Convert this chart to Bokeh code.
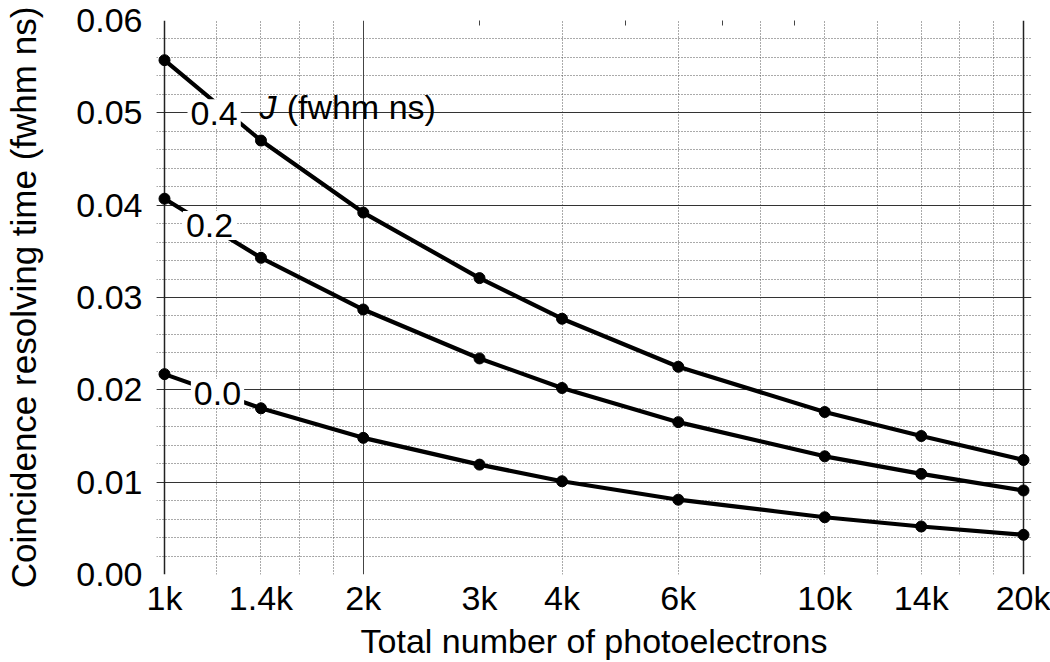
from bokeh.plotting import figure
from bokeh.models import (FixedTicker, CustomJSTickFormatter, Grid, LogAxis, Range1d)
from bokeh.core.properties import value
from bokeh.embed import file_html
from bokeh.resources import INLINE

# ---- data ----
photoelectrons = [1000, 1400, 2000, 3000, 4000, 6000, 10000, 14000, 20000]
j_04 = [0.0557, 0.0470, 0.0392, 0.0321, 0.0277, 0.0225, 0.0176, 0.0150, 0.0124]
j_02 = [0.0407, 0.0343, 0.0287, 0.0234, 0.0202, 0.0165, 0.0128, 0.0109, 0.0091]
j_00 = [0.0217, 0.0180, 0.0148, 0.0119, 0.0101, 0.0081, 0.0062, 0.0052, 0.0043]
series = [j_04, j_02, j_00]
curve_labels = ["0.4", "0.2", "0.0"]

x_tick_values = [1000, 1400, 2000, 3000, 4000, 6000, 10000, 14000, 20000]
x_tick_labels = ["1k", "1.4k", "2k", "3k", "4k", "6k", "10k", "14k", "20k"]
x_grid_dotted = [1200, 1400, 1600, 1800, 4000, 6000, 8000, 10000, 12000, 14000, 16000, 18000]
x_grid_solid = [2000]
x_border = [1000, 20000]
x_top_ticks = [3000, 5000, 7000, 9000]
y_tick_values = [0.0, 0.01, 0.02, 0.03, 0.04, 0.05, 0.06]
y_tick_labels = ["0.00", "0.01", "0.02", "0.03", "0.04", "0.05", "0.06"]
y_minor = [round(i * 0.002, 3) for i in range(31)]

FONT = "Liberation Sans"
FS = "34px"
PAD = 1.0283  # small range padding so edge markers are not clipped

p = figure(width=1050, height=662, x_axis_type="log",
           x_range=Range1d(x_border[0] / PAD, x_border[1] * PAD), y_range=Range1d(0, 0.06),
           output_backend="svg", toolbar_location=None,
           min_border_left=156, min_border_right=19, min_border_top=20, min_border_bottom=88)
p.background_fill_color = "white"
p.border_fill_color = "white"
p.outline_line_color = None

# x axis
xa = p.xaxis[0]
xa.ticker = FixedTicker(ticks=x_tick_values)
xa.formatter = CustomJSTickFormatter(args=dict(vals=x_tick_values, labs=x_tick_labels), code="""
for (let i = 0; i < vals.length; i++) { if (Math.abs(vals[i] - tick) < 1e-6 * vals[i]) return labs[i]; }
return '';
""")
xa.axis_label = "Total number of photoelectrons"
xa.major_label_standoff = 4
xa.axis_label_standoff = 2

# y axis
ya = p.yaxis[0]
ya.ticker = FixedTicker(ticks=y_tick_values, minor_ticks=y_minor)
ya.formatter = CustomJSTickFormatter(args=dict(vals=y_tick_values, labs=y_tick_labels), code="""
for (let i = 0; i < vals.length; i++) { if (Math.abs(vals[i] - tick) < 1e-9) return labs[i]; }
return '';
""")
ya.axis_label = "Coincidence resolving time (fwhm ns)"
ya.major_label_standoff = 14
ya.axis_label_standoff = 30

for ax in (xa, ya):
    ax.major_tick_out = 0
    ax.major_tick_in = 0
    ax.minor_tick_out = 0
    ax.minor_tick_in = 0
    ax.axis_line_color = None
    ax.major_label_text_font = FONT
    ax.major_label_text_font_size = FS
    ax.major_label_text_color = "black"
    ax.axis_label_text_font = FONT
    ax.axis_label_text_font_size = FS
    ax.axis_label_text_font_style = "normal"
    ax.axis_label_text_color = "black"
ya.axis_label_text_font_size = "35px"

# small inward ticks on the top edge
top = LogAxis(ticker=FixedTicker(ticks=x_top_ticks),
              formatter=CustomJSTickFormatter(code="return '';"),
              major_tick_in=5, major_tick_out=0, minor_tick_in=0, minor_tick_out=0,
              major_tick_line_color="#444444", axis_line_color=None,
              major_label_text_font_size="0px", major_label_standoff=0)
p.add_layout(top, "above")

ybounds = (y_tick_values[0], y_tick_values[-1])
xbounds = (x_border[0], x_border[1])

# grids
p.xgrid.ticker = FixedTicker(ticks=x_grid_dotted)
p.xgrid.grid_line_color = "#555555"
p.xgrid.grid_line_dash = "1 2"
p.xgrid.grid_line_width = 1
p.xgrid.bounds = ybounds
p.add_layout(Grid(dimension=0, ticker=FixedTicker(ticks=x_grid_solid), bounds=ybounds,
                  grid_line_color="#444444", grid_line_width=1))
p.ygrid.ticker = FixedTicker(ticks=y_tick_values, minor_ticks=y_minor)
p.ygrid.bounds = xbounds
p.ygrid.grid_line_color = "#333333"
p.ygrid.grid_line_width = 1.2
p.ygrid.minor_grid_line_color = "#555555"
p.ygrid.minor_grid_line_dash = "1 2"
p.ygrid.minor_grid_line_width = 1
# frame border drawn as grid lines at the range ends
p.add_layout(Grid(dimension=0, ticker=FixedTicker(ticks=x_border), bounds=ybounds,
                  grid_line_color="#222222", grid_line_width=1.5))
p.add_layout(Grid(dimension=1, ticker=FixedTicker(ticks=[ybounds[0], ybounds[1]]), bounds=xbounds,
                  grid_line_color="#222222", grid_line_width=2))

# curves
for ys in series:
    p.line(photoelectrons, ys, line_color="black", line_width=4.2)
    p.scatter(photoelectrons, ys, size=11, fill_color="black", line_color="black")

# curve labels with white boxes
label_x = [1189, 1170, 1203]
label_y = [0.0499, 0.0378, 0.0196]
p.text(x=label_x, y=label_y, text=curve_labels, text_align="center", text_baseline="middle",
       text_font=value(FONT), text_font_size=FS, text_color="black",
       background_fill_color="white", padding=3)

p.text(x=[1393], y=[0.0506], text=["J"], text_align="left", text_baseline="middle",
       text_font=value(FONT), text_font_size=FS, text_font_style="italic", text_color="black")
p.text(x=[1531], y=[0.0506], text=["(fwhm ns)"], text_align="left", text_baseline="middle",
       text_font=value(FONT), text_font_size=FS, text_color="black")

open("out.html", "w").write(file_html(p, INLINE))
